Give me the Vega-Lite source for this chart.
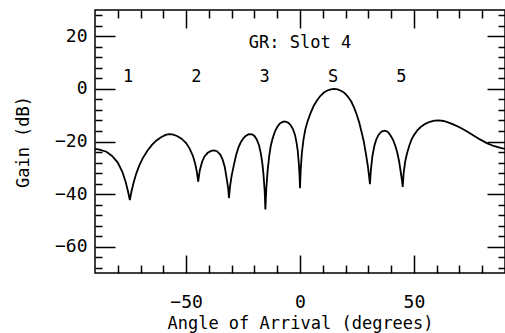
{
  "$schema": "https://vega.github.io/schema/vega-lite/v6.json",
  "width": 410,
  "height": 263,
  "autosize": {"type": "none"},
  "padding": {"left": 95, "top": 10, "right": 0, "bottom": 60},
  "config": {
    "view": {"stroke": "black", "strokeWidth": 1.5},
    "font": "DejaVu Sans Mono",
    "axis": {
      "domain": false,
      "grid": false,
      "tickColor": "black",
      "tickWidth": 1.5,
      "labelColor": "black",
      "labelFont": "DejaVu Sans Mono",
      "labelFontSize": 18,
      "titleFont": "DejaVu Sans Mono",
      "titleFontSize": 17,
      "titleFontWeight": "normal",
      "titleColor": "black"
    }
  },
  "datasets": {
    "gain": [
      {"angle": -90, "gain": -22.8}, {"angle": -88, "gain": -23.1}, {"angle": -85, "gain": -23.9},
      {"angle": -82.5, "gain": -25.5}, {"angle": -80, "gain": -28}, {"angle": -78, "gain": -31.5},
      {"angle": -76.5, "gain": -35.5}, {"angle": -75.5, "gain": -39}, {"angle": -74.7, "gain": -42.3},
      {"angle": -74, "gain": -39}, {"angle": -73, "gain": -35.5}, {"angle": -72, "gain": -32.5},
      {"angle": -70.5, "gain": -29}, {"angle": -69, "gain": -26.3}, {"angle": -67, "gain": -23.5},
      {"angle": -65, "gain": -21.3}, {"angle": -63, "gain": -19.6}, {"angle": -61, "gain": -18.4},
      {"angle": -59, "gain": -17.5}, {"angle": -57.5, "gain": -17.2}, {"angle": -56, "gain": -17.3},
      {"angle": -54, "gain": -17.9}, {"angle": -52, "gain": -18.9}, {"angle": -50, "gain": -20.6},
      {"angle": -48.5, "gain": -22.6}, {"angle": -47, "gain": -25.5}, {"angle": -46, "gain": -28.5},
      {"angle": -45.3, "gain": -31.5}, {"angle": -44.7, "gain": -35.3},
      {"angle": -44, "gain": -31}, {"angle": -43, "gain": -27.8}, {"angle": -42, "gain": -25.8},
      {"angle": -40.5, "gain": -24.3}, {"angle": -39, "gain": -23.6}, {"angle": -37.7, "gain": -23.4},
      {"angle": -36.5, "gain": -23.7}, {"angle": -35, "gain": -25}, {"angle": -34, "gain": -26.8},
      {"angle": -33, "gain": -29.8}, {"angle": -32.2, "gain": -34}, {"angle": -31.5, "gain": -38},
      {"angle": -31.2, "gain": -41.5},
      {"angle": -30.7, "gain": -37}, {"angle": -30, "gain": -33}, {"angle": -29, "gain": -28.8},
      {"angle": -28, "gain": -25}, {"angle": -27, "gain": -22.2}, {"angle": -26, "gain": -20.3},
      {"angle": -25, "gain": -19}, {"angle": -24, "gain": -18}, {"angle": -22.5, "gain": -17.2},
      {"angle": -21, "gain": -17.3}, {"angle": -20, "gain": -17.9}, {"angle": -19, "gain": -19.2},
      {"angle": -18, "gain": -21.4}, {"angle": -17.2, "gain": -24.5}, {"angle": -16.5, "gain": -28.5},
      {"angle": -16, "gain": -33}, {"angle": -15.5, "gain": -39}, {"angle": -15.2, "gain": -45.8},
      {"angle": -14.8, "gain": -38}, {"angle": -14.2, "gain": -31}, {"angle": -13.5, "gain": -25.5},
      {"angle": -12.8, "gain": -21.5}, {"angle": -12, "gain": -18.8}, {"angle": -11, "gain": -16.2},
      {"angle": -10, "gain": -14.5}, {"angle": -9, "gain": -13.3}, {"angle": -8, "gain": -12.7},
      {"angle": -7, "gain": -12.4}, {"angle": -6, "gain": -12.5}, {"angle": -5, "gain": -13},
      {"angle": -4, "gain": -13.9}, {"angle": -3, "gain": -15.5}, {"angle": -2.2, "gain": -17.5},
      {"angle": -1.5, "gain": -20.5}, {"angle": -1, "gain": -23.5}, {"angle": -0.5, "gain": -28.5},
      {"angle": -0.2, "gain": -33}, {"angle": 0, "gain": -37.8},
      {"angle": 0.3, "gain": -31}, {"angle": 0.8, "gain": -24.5}, {"angle": 1.5, "gain": -19.5},
      {"angle": 2.3, "gain": -15.5}, {"angle": 3.2, "gain": -12.7}, {"angle": 4.5, "gain": -9.5},
      {"angle": 6, "gain": -6.5}, {"angle": 7.5, "gain": -4.3}, {"angle": 9, "gain": -2.6},
      {"angle": 10.5, "gain": -1.4}, {"angle": 12, "gain": -0.6}, {"angle": 13.5, "gain": -0.15},
      {"angle": 15, "gain": 0}, {"angle": 16.5, "gain": -0.2}, {"angle": 18, "gain": -0.7},
      {"angle": 19.5, "gain": -1.5}, {"angle": 21, "gain": -2.9}, {"angle": 22.5, "gain": -4.8},
      {"angle": 23.8, "gain": -7.2}, {"angle": 25, "gain": -10}, {"angle": 26, "gain": -12.8},
      {"angle": 27, "gain": -16.3}, {"angle": 28, "gain": -20}, {"angle": 29, "gain": -25},
      {"angle": 29.8, "gain": -29.5}, {"angle": 30.3, "gain": -33}, {"angle": 30.7, "gain": -36.2},
      {"angle": 31.1, "gain": -31}, {"angle": 31.8, "gain": -25.5}, {"angle": 32.6, "gain": -21.8},
      {"angle": 33.5, "gain": -19.2}, {"angle": 34.6, "gain": -17.3}, {"angle": 35.8, "gain": -16.2},
      {"angle": 37.2, "gain": -15.9}, {"angle": 38.5, "gain": -16.3}, {"angle": 39.7, "gain": -17.6},
      {"angle": 40.8, "gain": -19.3}, {"angle": 41.8, "gain": -21.5}, {"angle": 42.7, "gain": -24.2},
      {"angle": 43.5, "gain": -27.5}, {"angle": 44.2, "gain": -31.5}, {"angle": 44.8, "gain": -35},
      {"angle": 45.1, "gain": -37.3},
      {"angle": 45.5, "gain": -32}, {"angle": 46.2, "gain": -27.5}, {"angle": 47, "gain": -24.5},
      {"angle": 48, "gain": -21.5}, {"angle": 49, "gain": -19.2}, {"angle": 50, "gain": -17.6},
      {"angle": 51.5, "gain": -15.8}, {"angle": 53, "gain": -14.5}, {"angle": 55, "gain": -13.3},
      {"angle": 57, "gain": -12.5}, {"angle": 59, "gain": -12.1}, {"angle": 61, "gain": -12},
      {"angle": 63, "gain": -12.2}, {"angle": 65, "gain": -12.7}, {"angle": 67, "gain": -13.4},
      {"angle": 70, "gain": -14.6}, {"angle": 73, "gain": -16}, {"angle": 76, "gain": -17.6},
      {"angle": 79, "gain": -19.2}, {"angle": 82, "gain": -20.6}, {"angle": 85, "gain": -21.7},
      {"angle": 88, "gain": -22.4}, {"angle": 90, "gain": -22.8}
    ],
    "labels": [
      {"angle": -75.5, "gain": 4.6, "text": "1"},
      {"angle": -45.5, "gain": 4.6, "text": "2"},
      {"angle": -15.5, "gain": 4.6, "text": "3"},
      {"angle": 14.5, "gain": 4.6, "text": "S"},
      {"angle": 44.5, "gain": 4.6, "text": "5"},
      {"angle": 0, "gain": 17.5, "text": "GR: Slot 4"}
    ]
  },
  "layer": [
    {
      "data": {"name": "gain"},
      "mark": {"type": "line", "color": "black", "strokeWidth": 1.8, "clip": true},
      "encoding": {
        "x": {"field": "angle", "type": "quantitative",
              "scale": {"domain": [-90, 90], "nice": false, "zero": false},
              "axis": {"orient": "bottom", "values": [-50, 0, 50], "tickSize": -18, "labelPadding": 38,
                       "title": "Angle of Arrival (degrees)", "titlePadding": 4}},
        "y": {"field": "gain", "type": "quantitative",
              "scale": {"domain": [-70, 30], "nice": false, "zero": false},
              "axis": {"orient": "left", "values": [-60, -40, -20, 0, 20], "tickSize": -20, "labelPadding": 28,
                       "title": "Gain (dB)", "titlePadding": 22}}
      }
    },
    {
      "data": {"name": "gain"},
      "mark": {"type": "line", "opacity": 0},
      "encoding": {
        "x": {"field": "angle", "type": "quantitative",
              "axis": {"orient": "bottom", "values": [-80, -70, -60, -40, -30, -20, -10, 10, 20, 30, 40, 60, 70, 80],
                       "tickSize": -8, "labels": false, "title": null}},
        "y": {"field": "gain", "type": "quantitative",
              "axis": {"orient": "left", "values": [-68, -64, -56, -52, -48, -44, -36, -32, -28, -24, -16, -12, -8, -4, 4, 8, 12, 16, 24, 28],
                       "tickSize": -7, "labels": false, "title": null}}
      }
    },
    {
      "data": {"name": "gain"},
      "mark": {"type": "line", "opacity": 0},
      "encoding": {
        "x": {"field": "angle", "type": "quantitative",
              "axis": {"orient": "top", "values": [-50, 0, 50], "tickSize": -18, "labels": false, "title": null}},
        "y": {"field": "gain", "type": "quantitative",
              "axis": {"orient": "right", "values": [-60, -40, -20, 0, 20], "tickSize": -18, "labels": false, "title": null}}
      }
    },
    {
      "data": {"name": "gain"},
      "mark": {"type": "line", "opacity": 0},
      "encoding": {
        "x": {"field": "angle", "type": "quantitative",
              "axis": {"orient": "top", "values": [-80, -70, -60, -40, -30, -20, -10, 10, 20, 30, 40, 60, 70, 80],
                       "tickSize": -8, "labels": false, "title": null}},
        "y": {"field": "gain", "type": "quantitative",
              "axis": {"orient": "right", "values": [-68, -64, -56, -52, -48, -44, -36, -32, -28, -24, -16, -12, -8, -4, 4, 8, 12, 16, 24, 28],
                       "tickSize": -7, "labels": false, "title": null}}
      }
    },
    {
      "data": {"name": "labels"},
      "mark": {"type": "text", "color": "black", "fontSize": 17, "font": "DejaVu Sans Mono", "baseline": "middle", "align": "center"},
      "encoding": {
        "x": {"field": "angle", "type": "quantitative", "axis": null},
        "y": {"field": "gain", "type": "quantitative", "axis": null},
        "text": {"field": "text", "type": "nominal"}
      }
    }
  ],
  "resolve": {"axis": {"x": "independent", "y": "independent"}}
}
